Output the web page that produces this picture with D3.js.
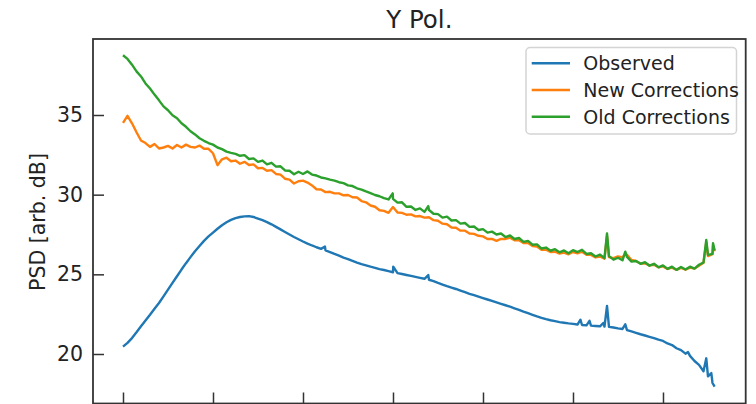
<!DOCTYPE html>
<html>
<head>
<meta charset="utf-8">
<script src="https://cdn.jsdelivr.net/npm/d3@7"></script>
<style>
  html, body { margin: 0; padding: 0; background: #fff; }
  svg { display: block; }
  text { font-family: "DejaVu Sans", sans-serif; fill: #222; }
</style>
</head>
<body>
<svg id="chart" width="756" height="404"></svg>
<script>
// Frequency grid: uniform channels, 0.5 units apart, starting at 20
const freqStart = 20;
const freqStep = 0.5;
const channelCount = 132;

// PSD [arb. dB] on the channel grid
const observed = [
  20.46, 20.70, 21.00, 21.36, 21.74, 22.10, 22.46, 22.84, 23.20, 23.62,
  24.04, 24.46, 24.88, 25.30, 25.70, 26.08, 26.45, 26.78, 27.10, 27.38,
  27.62, 27.86, 28.08, 28.27, 28.42, 28.53, 28.60, 28.64, 28.65, 28.60,
  28.50, 28.40, 28.28, 28.14, 27.98, 27.82, 27.66, 27.50, 27.34, 27.20,
  27.06, 26.93, 26.81, 26.70, 26.60, 26.50, 26.40, 26.28, 26.17, 26.05,
  25.96, 25.85, 25.74, 25.64, 25.56, 25.48, 25.41, 25.33, 25.27, 25.20,
  25.13, 25.08, 25.02, 24.96, 24.90, 24.84, 24.78, 24.72, 24.66, 24.57,
  24.46, 24.36, 24.26, 24.17, 24.08, 23.98, 23.88, 23.78, 23.69, 23.60,
  23.51, 23.42, 23.33, 23.24, 23.15, 23.06, 22.97, 22.87, 22.77, 22.66,
  22.56, 22.46, 22.36, 22.27, 22.19, 22.12, 22.06, 22.00, 21.96, 21.92,
  21.89, 21.85, 21.82, 21.80, 21.78, 21.76, 21.74, 21.72, 21.70, 21.66,
  21.61, 21.57, 21.50, 21.42, 21.33, 21.24, 21.16, 21.08, 21.00, 20.90,
  20.82, 20.66, 20.56, 20.36, 20.24, 20.02, 19.88, 19.56, 19.32, 18.92,
  18.60, 18.18
];

const newCorrections = [
  34.50, 34.95, 34.48, 33.92, 33.40, 33.24, 33.00, 33.18, 32.90, 32.96,
  33.06, 32.90, 33.12, 32.96, 33.14, 33.00, 32.96, 33.08, 32.88, 32.88,
  32.60, 31.85, 32.22, 32.32, 32.10, 32.14, 31.94, 32.06, 31.86, 31.90,
  31.66, 31.68, 31.50, 31.54, 31.30, 31.26, 31.00, 30.94, 30.70, 30.84,
  30.88, 30.76, 30.58, 30.34, 30.32, 30.16, 30.18, 30.08, 30.08, 29.96,
  29.98, 29.84, 29.82, 29.60, 29.52, 29.32, 29.24, 29.02, 28.98, 28.86,
  29.22, 28.88, 28.86, 28.74, 28.76, 28.64, 28.66, 28.56, 28.58, 28.40,
  28.36, 28.18, 28.14, 27.94, 27.92, 27.74, 27.74, 27.56, 27.54, 27.42,
  27.38, 27.22, 27.22, 27.10, 27.22, 27.22, 27.30, 27.14, 27.14, 26.96,
  26.96, 26.78, 26.74, 26.54, 26.54, 26.40, 26.42, 26.30, 26.36, 26.26,
  26.40, 26.32, 26.42, 26.22, 26.22, 26.06, 26.12, 25.98, 26.08, 26.02,
  26.12, 26.06, 26.22, 25.90, 25.84, 25.68, 25.70, 25.56, 25.60, 25.44,
  25.50, 25.34, 25.42, 25.28, 25.40, 25.30, 25.42, 25.36, 25.54, 25.72,
  26.14, 26.26
];

const oldCorrections = [
  38.75, 38.52, 38.16, 37.74, 37.42, 36.98, 36.66, 36.28, 35.92, 35.54,
  35.30, 34.98, 34.80, 34.48, 34.26, 33.98, 33.78, 33.54, 33.38, 33.24,
  33.14, 32.96, 32.86, 32.70, 32.62, 32.56, 32.44, 32.48, 32.24, 32.28,
  32.06, 32.14, 31.90, 32.00, 31.76, 31.78, 31.52, 31.50, 31.28, 31.44,
  31.30, 31.46, 31.26, 31.20, 31.08, 31.02, 30.94, 30.88, 30.78, 30.72,
  30.58, 30.54, 30.40, 30.32, 30.20, 30.10, 29.98, 29.90, 29.78, 29.70,
  29.74, 29.50, 29.52, 29.24, 29.26, 29.04, 29.14, 28.92, 29.04, 28.80,
  28.78, 28.56, 28.62, 28.38, 28.40, 28.18, 28.22, 27.98, 28.00, 27.78,
  27.84, 27.62, 27.68, 27.50, 27.56, 27.34, 27.44, 27.22, 27.28, 27.04,
  27.10, 26.86, 26.88, 26.62, 26.68, 26.48, 26.58, 26.38, 26.50, 26.32,
  26.52, 26.40, 26.54, 26.28, 26.32, 26.12, 26.24, 26.02, 26.14, 25.92,
  26.04, 25.88, 26.10, 25.80, 25.84, 25.66, 25.76, 25.54, 25.66, 25.44,
  25.56, 25.34, 25.48, 25.28, 25.46, 25.30, 25.48, 25.36, 25.60, 25.74,
  26.22, 26.28
];

// Narrow RFI spikes and the last channel, as [frequency, PSD] pairs
const observedSpikes = [
  [42.44, 26.74], [50.03, 25.48], [53.92, 24.95], [70.83, 22.15],
  [71.83, 22.08], [73.39, 21.95], [73.78, 23.02], [75.81, 21.86],
  [82.78, 20.12], [84.81, 19.73], [85.37, 18.80], [85.74, 17.95]
];
const newSpikes = [
  [73.78, 27.40], [75.81, 26.30], [84.81, 27.00], [85.56, 26.80], [85.74, 26.45]
];
const oldSpikes = [
  [49.97, 30.08], [53.92, 29.28], [73.78, 27.57], [75.81, 26.42],
  [84.81, 27.16], [85.56, 26.95], [85.74, 26.50]
];

const seriesNames = ["Observed", "New Corrections", "Old Corrections"];
const seriesColors = ["#1f77b4", "#ff7f0e", "#2ca02c"];

const xTicks = [20, 30, 40, 50, 60, 70, 80];
const yTicks = [20, 25, 30, 35];

// ---- layout ----
const plot = { left: 93, right: 745.7, top: 39, bottom: 403.5 };

const x = d3.scaleLinear()
  .domain([16.667, 89.19])
  .range([plot.left, plot.right]);

const y = d3.scaleLinear()
  .domain([16.893, 39.77])
  .range([plot.bottom, plot.top]);

const svg = d3.select("#chart");

// Combine the channel grid with the spike samples, in frequency order
const freqs = d3.range(channelCount).map(i => freqStart + i * freqStep);
function buildSeries(values, extra) {
  const pts = values.map((v, i) => [freqs[i], v]).concat(extra);
  return pts.sort((a, b) => a[0] - b[0]);
}
const series = [
  buildSeries(observed, observedSpikes),
  buildSeries(newCorrections, newSpikes),
  buildSeries(oldCorrections, oldSpikes)
];

svg.append("clipPath").attr("id", "plot-clip")
  .append("rect")
  .attr("x", plot.left).attr("y", plot.top)
  .attr("width", plot.right - plot.left)
  .attr("height", plot.bottom - plot.top);

const line = d3.line().x(d => x(d[0])).y(d => y(d[1]));

svg.append("g").attr("clip-path", "url(#plot-clip)")
  .selectAll("path")
  .data(series)
  .join("path")
  .attr("d", line)
  .attr("fill", "none")
  .attr("stroke", (d, i) => seriesColors[i])
  .attr("stroke-width", 2.4)
  .attr("stroke-linejoin", "round");

// ---- axes (ticks pointing inward) ----
const yAxis = svg.append("g")
  .attr("transform", `translate(${plot.left},0)`)
  .call(d3.axisLeft(y).tickValues(yTicks).tickSizeInner(-11).tickSizeOuter(0).tickPadding(10));
yAxis.select(".domain").remove();
yAxis.selectAll(".tick line").attr("stroke", "#333").attr("stroke-width", 1.5);
yAxis.selectAll(".tick text")
  .attr("font-size", 20.5)
  .attr("font-family", "DejaVu Sans")
  .attr("fill", "#222");

const xAxis = svg.append("g")
  .attr("transform", `translate(0,${plot.bottom})`)
  .call(d3.axisBottom(x).tickValues(xTicks).tickSizeInner(-11).tickSizeOuter(0).tickFormat(""));
xAxis.select(".domain").remove();
xAxis.selectAll(".tick line").attr("stroke", "#333").attr("stroke-width", 1.5);

// frame
svg.append("rect")
  .attr("x", plot.left).attr("y", plot.top)
  .attr("width", plot.right - plot.left)
  .attr("height", plot.bottom - plot.top)
  .attr("fill", "none")
  .attr("stroke", "#333")
  .attr("stroke-width", 1.8);

// title and axis label
svg.append("text")
  .attr("x", (plot.left + plot.right) / 2)
  .attr("y", 28)
  .attr("text-anchor", "middle")
  .attr("font-size", 24.5)
  .text("Y Pol.");

svg.append("text")
  .attr("transform", `translate(45,222) rotate(-90)`)
  .attr("text-anchor", "middle")
  .attr("font-size", 20.5)
  .text("PSD [arb. dB]");

// ---- legend ----
const legend = svg.append("g");
legend.append("rect")
  .attr("x", 526).attr("y", 47.5)
  .attr("width", 210.5).attr("height", 86.5)
  .attr("rx", 4)
  .attr("fill", "#fff").attr("fill-opacity", 0.8)
  .attr("stroke", "#d4d4d4").attr("stroke-width", 1.5);

const rowY = d3.scaleLinear().domain([0, 2]).range([63.3, 116.7]);
const rows = legend.selectAll("g.row")
  .data(seriesNames)
  .join("g")
  .attr("class", "row")
  .attr("transform", (d, i) => `translate(0,${rowY(i)})`);
rows.append("line")
  .attr("x1", 531.7).attr("x2", 570)
  .attr("stroke", (d, i) => seriesColors[i])
  .attr("stroke-width", 2.4);
rows.append("text")
  .attr("x", 583.3)
  .attr("dy", "0.36em")
  .attr("font-size", 19)
  .text(d => d);
</script>
</body>
</html>
